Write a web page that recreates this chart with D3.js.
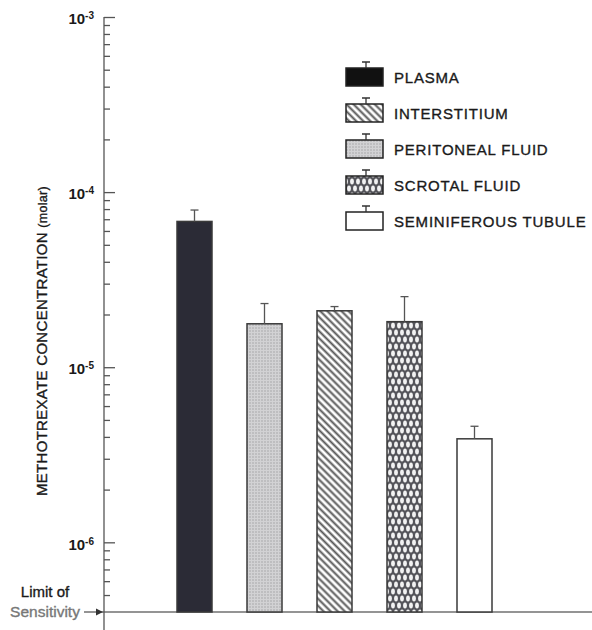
<!DOCTYPE html>
<html>
<head>
<meta charset="utf-8">
<script src="https://cdn.jsdelivr.net/npm/d3@7"></script>
<style>
  body { margin: 0; background: #fff; }
  text { font-family: "Liberation Sans", Arial, sans-serif; fill: #1a1a1a; stroke: #1a1a1a; stroke-width: 0.35px; }
</style>
</head>
<body>
<div id="container"></div>
<script>
// bar order on the chart
var categories = ['Plasma', 'Peritoneal fluid', 'Interstitium', 'Scrotal fluid', 'Seminiferous tubule']
var means = [6.8e-5, 1.77e-5, 2.1e-5, 1.82e-5, 3.9e-6]
var upper = [7.9e-5, 2.31e-5, 2.22e-5, 2.53e-5, 4.6e-6]
var fills = ['plasma', 'peritoneal', 'interstitium', 'scrotal', 'tubule']

// legend order
var legendLabels = ['PLASMA', 'INTERSTITIUM', 'PERITONEAL FLUID', 'SCROTAL FLUID', 'SEMINIFEROUS TUBULE']
var legendFills = ['plasma', 'interstitium', 'peritoneal', 'scrotal', 'tubule']

var majorTicks = [1e-3, 1e-4, 1e-5, 1e-6]
var tickExponents = ['-3', '-4', '-5', '-6']
var limit = 4e-7

var width = 592, height = 630

var svg = d3.select('#container').append('svg')
  .attr('width', width)
  .attr('height', height)

// patterns
var defs = svg.append('defs')

var pPer = defs.append('pattern').attr('id', 'peritoneal')
  .attr('patternUnits', 'userSpaceOnUse').attr('width', 3).attr('height', 3)
pPer.append('rect').attr('width', 3).attr('height', 3).attr('fill', '#d2d2d4')
pPer.append('circle').attr('cx', 1).attr('cy', 1).attr('r', 0.7).attr('fill', '#9a9a9e')

var pInt = defs.append('pattern').attr('id', 'interstitium')
  .attr('patternUnits', 'userSpaceOnUse').attr('width', 5).attr('height', 5)
  .attr('patternTransform', 'rotate(-45)')
pInt.append('rect').attr('width', 5).attr('height', 5).attr('fill', '#fff')
pInt.append('line').attr('x1', 1.5).attr('x2', 1.5).attr('y1', 0).attr('y2', 5)
  .attr('stroke', '#555').attr('stroke-width', 2)

var pScr = defs.append('pattern').attr('id', 'scrotal')
  .attr('patternUnits', 'userSpaceOnUse').attr('width', 6).attr('height', 14)
pScr.append('rect').attr('width', 6).attr('height', 14).attr('fill', '#55555b')
;[[3, 3.5], [0, 10.5], [6, 10.5]].forEach(function (c) {
  pScr.append('ellipse').attr('cx', c[0]).attr('cy', c[1]).attr('rx', 1.9).attr('ry', 3)
    .attr('fill', '#f2f2f2')
})

var fillOf = {
  plasma: '#2b2b36',
  peritoneal: 'url(#peritoneal)',
  interstitium: 'url(#interstitium)',
  scrotal: 'url(#scrotal)',
  tubule: '#fff'
}

// scales
var y = d3.scaleLog().domain([limit, 1e-3]).range([612, 17])
var x = d3.scaleBand().domain(categories).range([142, 527])
  .paddingInner(0.5).paddingOuter(0.5)

var axisX = 104

// baseline (limit of sensitivity)
svg.append('line')
  .attr('x1', 84).attr('x2', width)
  .attr('y1', y(limit)).attr('y2', y(limit))
  .attr('stroke', '#707070').attr('stroke-width', 1.5)
svg.append('path')
  .attr('d', 'M' + (axisX - 1) + ',' + y(limit) + 'l-7,-3.5l0,7z')
  .attr('fill', '#333')

// y axis
var gAxis = svg.append('g').attr('transform', 'translate(' + axisX + ',0)')
gAxis.append('line')
  .attr('y1', y(1e-3)).attr('y2', height)
  .attr('stroke', '#555').attr('stroke-width', 1.3)

var minor = y.ticks().filter(function (d) {
  return majorTicks.indexOf(d) < 0 && d > limit
})
var gMinor = gAxis.append('g')
  .call(d3.axisLeft(y).tickValues(minor).tickSize(-6).tickFormat(''))
var gMajor = gAxis.append('g')
  .call(d3.axisLeft(y).tickValues(majorTicks).tickSize(-11).tickPadding(10).tickFormat(function () { return '' }))
gMinor.select('.domain').remove()
gMajor.select('.domain').remove()
gAxis.selectAll('.tick line').attr('stroke', '#555').attr('stroke-width', 1.3)

gMajor.selectAll('.tick text')
  .attr('dy', '0.45em')
  .style('font-size', '15px')
  .style('font-weight', 'bold')
  .style('stroke-width', '0')
  .each(function (d, i) {
    var t = d3.select(this)
    t.append('tspan').text('10')
    t.append('tspan').text(tickExponents[i])
      .attr('dy', '-0.5em').style('font-size', '10px')
  })

// y axis title
svg.append('text')
  .attr('transform', 'translate(47,341) rotate(-90)')
  .attr('text-anchor', 'middle')
  .style('font-size', '15px')
  .style('letter-spacing', '0.3px')
  .call(function (t) {
    t.append('tspan').text('METHOTREXATE  CONCENTRATION ')
    t.append('tspan').text('(molar)').style('font-size', '12.5px')
  })

// limit of sensitivity label
svg.append('text').attr('x', 45).attr('y', 597)
  .attr('text-anchor', 'middle').style('font-size', '15px').text('Limit of')
svg.append('text').attr('x', 45).attr('y', 617)
  .attr('text-anchor', 'middle').style('font-size', '15.5px')
  .style('fill', '#777').style('stroke', '#777').text('Sensitivity')

// bars
var bars = svg.append('g')
bars.selectAll('rect').data(categories).enter().append('rect')
  .attr('x', function (d) { return x(d) })
  .attr('width', x.bandwidth())
  .attr('y', function (d, i) { return y(means[i]) })
  .attr('height', function (d, i) { return y(limit) - y(means[i]) })
  .attr('fill', function (d, i) { return fillOf[fills[i]] })
  .attr('stroke', '#3a3a3a')
  .attr('stroke-width', 1.5)

// error bars
var err = svg.append('g').attr('stroke', '#555').attr('stroke-width', 1.3)
categories.forEach(function (c, i) {
  var cx = x(c) + x.bandwidth() / 2
  err.append('line').attr('x1', cx).attr('x2', cx)
    .attr('y1', y(means[i])).attr('y2', y(upper[i]))
  err.append('line').attr('x1', cx - 4).attr('x2', cx + 4)
    .attr('y1', y(upper[i])).attr('y2', y(upper[i]))
})

// legend
var legend = svg.append('g').attr('transform', 'translate(346,0)')
var rows = legend.selectAll('g').data(legendLabels).enter().append('g')
  .attr('transform', function (d, i) { return 'translate(0,' + (77 + i * 36) + ')' })
rows.append('rect')
  .attr('x', 0).attr('y', -9).attr('width', 37).attr('height', 18)
  .attr('fill', function (d, i) { return legendFills[i] === 'plasma' ? '#111' : fillOf[legendFills[i]] })
  .attr('stroke', '#222').attr('stroke-width', 1.5)
rows.append('path')
  .attr('d', 'M20,-9V-15M16,-15H24')
  .attr('stroke', '#333').attr('stroke-width', 1.3).attr('fill', 'none')
rows.append('text')
  .attr('x', 48).attr('y', 5.5)
  .style('font-size', '15px')
  .style('letter-spacing', '0.8px')
  .text(function (d) { return d })
</script>
</body>
</html>
